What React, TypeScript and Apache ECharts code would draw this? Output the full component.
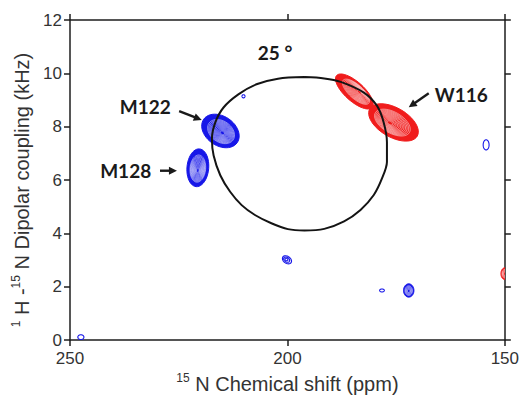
import React, { useEffect, useRef } from 'react';
import * as echarts from 'echarts';

// PISA wheel (25°): chemical shift (ppm) / dipolar coupling (kHz)
const wheelPpm = [196.08, 191.53, 187.74, 182.42, 179.38, 177.86, 177.11, 177.11, 178.25, 180.14, 183.19, 186.97, 191.53, 196.08, 199.89, 203.69, 207.47, 210.52, 213.17, 215.44, 216.97, 217.36, 216.58, 214.69, 211.28, 207.11, 202.16, 196.08];
const wheelKhz = [9.86, 9.81, 9.68, 9.28, 8.78, 8.16, 7.42, 6.68, 6.06, 5.44, 4.88, 4.45, 4.17, 4.11, 4.16, 4.38, 4.69, 5.06, 5.56, 6.18, 6.92, 7.54, 8.16, 8.72, 9.21, 9.59, 9.80, 9.86];

// peaks: [ppm, kHz, half-width ppm, half-width kHz, tilt deg, core ppm, core kHz, contour levels]
const bluePeaks = [
  [215.4, 7.84, 4.7, 0.55, 35, 214.9, 7.76, 12], // M122
  [220.6, 6.46, 2.5, 0.71, 5, 220.6, 6.35, 12],  // M128
  [200.1, 3.01, 1.15, 0.13, 35, 200.3, 3.03, 3],
  [178.25, 1.86, 0.55, 0.055, 0, 178.25, 1.86, 1],
  [172.1, 1.86, 1.2, 0.25, 0, 172.1, 1.84, 5],
  [154.3, 7.32, 0.68, 0.19, 0, 154.3, 7.32, 1],
  [247.5, 0.11, 0.7, 0.09, 0, 247.5, 0.11, 1],
  [210.1, 9.14, 0.35, 0.06, 0, 210.1, 9.14, 1],
];
const redPeaks = [
  [184.6, 9.32, 5.5, 0.36, 42, 183.3, 9.29, 12], // W116 upper
  [175.6, 8.16, 6.3, 0.55, 30, 176.5, 8.14, 12], // W116 lower
  [150.0, 2.49, 0.9, 0.22, 0, 150.0, 2.49, 4],
];

// annotations
const labelTexts = ['M122', 'M128', 'W116', '25 °'];
const labelPpm = [232.7, 237.2, 160.0, 202.85];
const labelKhz = [8.77, 6.35, 9.21, 10.77];
const arrowFromPpm = [224.9, 229.3, 167.5];
const arrowFromKhz = [8.58, 6.35, 9.25];
const arrowToPpm = [219.7, 225.4, 172.1];
const arrowToKhz = [8.25, 6.35, 8.73];

const xTicks = { min: 150, max: 250, interval: 50 };
const yTicks = { min: 0, max: 12, interval: 2 };

const BLUE = '#1717e8';
const RED = '#f01c1c';
const AXIS = '#1e1e1e';
const LABEL_FONT = '"Liberation Sans", Arial, sans-serif';

function renderPeak(params: any, api: any) {
  const ppm = api.value(0), khz = api.value(1);
  const rP = api.value(2), rK = api.value(3);
  const ang = (api.value(4) * Math.PI) / 180;
  const cP = api.value(5), cK = api.value(6);
  const lv = api.value(7);
  const c = api.coord([ppm, khz]);
  const core = api.coord([cP, cK]);
  const sz = api.size([1, 1]);
  const rx = rP * Math.abs(sz[0]);
  const ry = rK * Math.abs(sz[1]);
  const color = api.visual('color');
  const ell = (s: number) => {
    const cx = c[0] + (core[0] - c[0]) * (1 - s);
    const cy = c[1] + (core[1] - c[1]) * (1 - s);
    const pts: number[][] = [];
    const n = 48;
    for (let i = 0; i < n; i++) {
      const t = (i / n) * Math.PI * 2;
      const a = rx * s * Math.cos(t);
      const b = ry * s * Math.sin(t);
      pts.push([cx + a * Math.cos(ang) - b * Math.sin(ang), cy + a * Math.sin(ang) + b * Math.cos(ang)]);
    }
    return pts;
  };
  const children: any[] = [];
  if (lv >= 4) {
    children.push({ type: 'polygon', shape: { points: ell(1) }, style: { fill: color, stroke: color, lineWidth: 1 } });
    for (let k = 0; k < lv; k++) {
      const s = 0.72 * (1 - k / (lv + 1));
      children.push({ type: 'polygon', shape: { points: ell(s) }, style: { fill: 'none', stroke: '#ffffff', lineWidth: 0.6, opacity: 0.8 } });
    }
  } else {
    for (let k = 0; k < lv; k++) {
      const s = 1 - k / lv;
      children.push({ type: 'polygon', shape: { points: ell(s) }, style: { fill: 'none', stroke: color, lineWidth: 1.1 } });
    }
  }
  return { type: 'group', children };
}

function renderArrow(params: any, api: any) {
  const p1 = api.coord([api.value(0), api.value(1)]);
  const p2 = api.coord([api.value(2), api.value(3)]);
  const dx = p2[0] - p1[0], dy = p2[1] - p1[1];
  const len = Math.sqrt(dx * dx + dy * dy);
  const ux = dx / len, uy = dy / len;
  const hl = 8, hw = 4;
  const base = [p2[0] - ux * hl, p2[1] - uy * hl];
  return {
    type: 'group',
    children: [
      { type: 'line', shape: { x1: p1[0], y1: p1[1], x2: base[0] + ux, y2: base[1] + uy }, style: { stroke: '#1a1a1a', lineWidth: 2.4 } },
      {
        type: 'polygon',
        shape: { points: [p2, [base[0] - uy * hw, base[1] + ux * hw], [base[0] + uy * hw, base[1] - ux * hw]] },
        style: { fill: '#1a1a1a' },
      },
    ],
  };
}

function renderLabel(params: any, api: any) {
  const p = api.coord([api.value(0), api.value(1)]);
  return {
    type: 'text',
    x: p[0],
    y: p[1],
    style: {
      text: labelTexts[params.dataIndex],
      fill: '#1a1a1a',
      fontSize: 19,
      fontWeight: 'bold',
      fontFamily: 'Lato, "Open Sans", sans-serif',
      align: 'center',
      verticalAlign: 'middle',
    },
  };
}

const nameRich = {
  n: { fontSize: 20, lineHeight: 24, color: '#333', fontFamily: LABEL_FONT },
  sup: { fontSize: 12, lineHeight: 13, color: '#333', fontFamily: LABEL_FONT, verticalAlign: 'top' },
};

function axisBase(extra: any) {
  return {
    type: 'value',
    axisLine: { show: true, onZero: false, lineStyle: { color: AXIS, width: 1.5 } },
    axisTick: { show: true, inside: false, length: 6, lineStyle: { color: AXIS, width: 1.5 } },
    splitLine: { show: false },
    ...extra,
  };
}

export default function App() {
  const ref = useRef<HTMLDivElement>(null);
  useEffect(() => {
    if (!ref.current) return;
    const chart = echarts.init(ref.current, null, { renderer: 'svg' });
    const option: any = {
      animation: false,
      backgroundColor: '#ffffff',
      grid: { left: 70, right: 13, top: 20, bottom: 56 },
      xAxis: [
        axisBase({
          position: 'bottom',
          ...xTicks,
          inverse: true,
          axisLabel: { color: '#333', fontSize: 17, fontFamily: LABEL_FONT, margin: 10 },
          name: '{sup|15}{n| N Chemical shift (ppm)}',
          nameLocation: 'middle',
          nameGap: 31,
          nameTextStyle: { rich: nameRich },
        }),
        axisBase({ position: 'top', ...xTicks, inverse: true, axisLabel: { show: false } }),
      ],
      yAxis: [
        axisBase({
          position: 'left',
          ...yTicks,
          axisLabel: { color: '#333', fontSize: 17, fontFamily: LABEL_FONT, margin: 8 },
          name: '{sup|1}{n| H -}{sup|15}{n| N Dipolar coupling (kHz)}',
          nameLocation: 'middle',
          nameGap: 33,
          nameTextStyle: { rich: nameRich, padding: [0, 20, 0, 0] },
        }),
        axisBase({ position: 'right', ...yTicks, axisLabel: { show: false } }),
      ],
      series: [
        {
          type: 'custom',
          name: 'blue',
          xAxisIndex: 0,
          yAxisIndex: 0,
          clip: true,
          itemStyle: { color: BLUE },
          encode: { x: 0, y: 1 },
          data: bluePeaks,
          renderItem: renderPeak,
          z: 2,
        },
        {
          type: 'custom',
          name: 'red',
          xAxisIndex: 0,
          yAxisIndex: 0,
          clip: true,
          itemStyle: { color: RED },
          encode: { x: 0, y: 1 },
          data: redPeaks,
          renderItem: renderPeak,
          z: 2,
        },
        {
          type: 'line',
          name: 'wheel',
          xAxisIndex: 0,
          yAxisIndex: 0,
          data: wheelPpm.map((p, i) => [p, wheelKhz[i]]),
          showSymbol: false,
          smooth: 0.3,
          lineStyle: { color: '#141414', width: 2 },
          z: 3,
        },
        {
          type: 'custom',
          name: 'arrows',
          xAxisIndex: 0,
          yAxisIndex: 0,
          encode: { x: [0, 2], y: [1, 3] },
          data: arrowFromPpm.map((p, i) => [p, arrowFromKhz[i], arrowToPpm[i], arrowToKhz[i]]),
          renderItem: renderArrow,
          z: 4,
        },
        {
          type: 'custom',
          name: 'labels',
          xAxisIndex: 0,
          yAxisIndex: 0,
          encode: { x: 0, y: 1 },
          data: labelPpm.map((p, i) => [p, labelKhz[i]]),
          renderItem: renderLabel,
          z: 4,
        },
      ],
    };
    chart.setOption(option);
    return () => chart.dispose();
  }, []);
  return <div ref={ref} style={{ position: 'fixed', left: 0, top: 0, width: 522, height: 399 }} />;
}
